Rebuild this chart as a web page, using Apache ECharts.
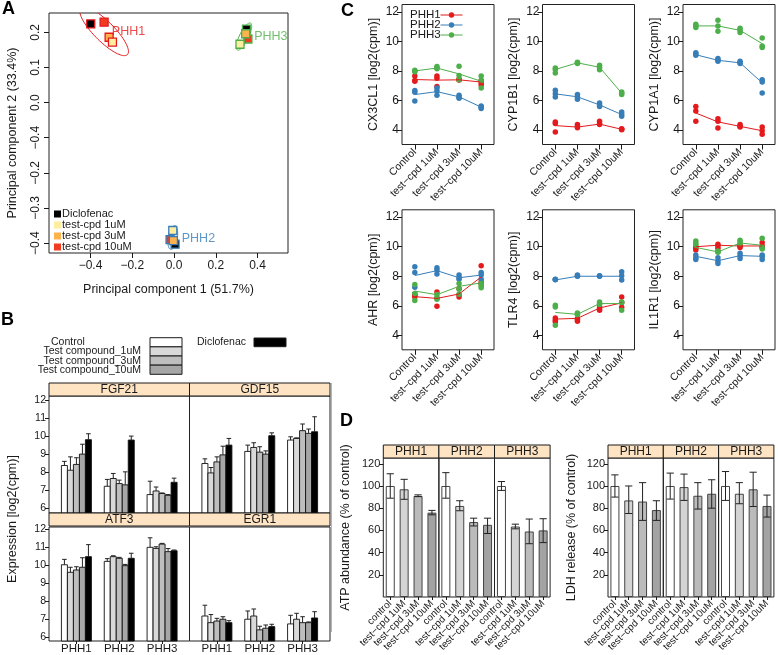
<!DOCTYPE html>
<html><head><meta charset="utf-8">
<script src="https://cdn.jsdelivr.net/npm/echarts@6/dist/echarts.min.js"></script>
<style>html,body{margin:0;padding:0;background:#fff}#c{width:778px;height:655px}</style>
</head><body><div id="c"></div><script>
// ================= DATA =================
// ---- Panel A (PCA) ----
const pcaDonors = ['PHH1', 'PHH2', 'PHH3'];
const pcaTreatments = ['Diclofenac', 'test-cpd 1uM', 'test-cpd 3uM', 'test-cpd 10uM'];
const pc1PHH1 = [-0.399, -0.295, -0.311, -0.335];
const pc2PHH1 = [0.224, 0.172, 0.186, 0.229];
const pc1PHH2 = [0.005, -0.006, -0.003, -0.019];
const pc2PHH2 = [-0.403, -0.364, -0.393, -0.390];
const pc1PHH3 = [0.347, 0.316, 0.343, 0.354];
const pc2PHH3 = [0.209, 0.166, 0.196, 0.181];
const pcaXTicks = [-0.4, -0.2, 0, 0.2, 0.4];
const pcaXTickLabels = ['−0.4', '−0.2', '0.0', '0.2', '0.4'];
const pcaYTicks = [-0.4, -0.3, -0.2, -0.1, 0, 0.1, 0.2];
const pcaYTickLabels = ['−0.4', '−0.3', '−0.2', '−0.4', '0.0', '0.1', '0.2'];
const pcaLabelPos = [[-0.298, 0.202], [0.037, -0.386], [0.384, 0.187]];
const pcaEllipseCenters = [[-0.335, 0.203], [-0.006, -0.384], [0.335, 0.188]];

// ---- Panel B (bar chart) ----
const bGenes = ['FGF21', 'GDF15', 'ATF3', 'EGR1'];
const bDonors = ['PHH1', 'PHH2', 'PHH3'];
const bTreatments = ['Control', 'Test compound_1uM', 'Test compound_3uM', 'Test compound_10uM', 'Diclofenac'];
const bYTicks = [6, 7, 8, 9, 10, 11, 12];
const fgf21Mean = [[8.37, 8.11, 8.43, 9.00, 9.80], [7.22, 7.65, 7.37, 7.30, 9.78], [6.76, 6.96, 6.82, 6.72, 7.44]];
const fgf21Upper = [[8.60, 8.85, 8.80, 9.55, 10.13], [7.60, 7.93, 7.56, 8.02, 10.00], [7.50, 7.18, 6.85, 6.76, 7.67]];
const gdf15Mean = [[8.48, 7.96, 8.57, 8.96, 9.50], [9.15, 9.37, 9.11, 9.00, 10.02], [9.78, 9.87, 10.30, 10.15, 10.24]];
const gdf15Upper = [[8.74, 8.26, 8.85, 9.44, 9.87], [9.50, 9.63, 9.41, 9.18, 10.18], [9.96, 9.90, 10.67, 10.39, 11.07]];
const atf3Mean = [[10.03, 9.61, 9.74, 9.89, 10.48], [10.22, 10.48, 10.39, 9.98, 10.39], [11.00, 10.94, 11.18, 10.76, 10.81]];
const atf3Upper = [[10.33, 9.89, 9.92, 10.42, 11.15], [10.37, 10.53, 10.44, 10.05, 10.67], [11.53, 11.03, 11.22, 10.93, 10.85]];
const egr1Mean = [[7.18, 6.81, 6.90, 7.00, 6.81], [7.00, 7.18, 6.41, 6.50, 6.59], [6.74, 7.00, 6.81, 6.81, 7.07]];
const egr1Upper = [[7.78, 7.26, 7.05, 7.14, 6.92], [7.46, 7.57, 6.61, 6.68, 6.72], [7.22, 7.33, 7.14, 6.85, 7.42]];

// ---- Panel C (gene profiles) ----
const cGenes = ['CX3CL1', 'CYP1B1', 'CYP1A1', 'AHR', 'TLR4', 'IL1R1'];
const cConditions = ['Control', 'test−cpd 1uM', 'test−cpd 3uM', 'test−cpd 10uM'];
const cDonors = ['PHH1', 'PHH2', 'PHH3'];
const cYTicks = [4, 6, 8, 10, 12];
// points: [donor][condition][replicate]
const cx3cl1Pts = [
  [[7.65, 7.35, 7.30], [7.65, 7.50, 6.95], [7.45, 7.40, 7.38], [7.35, 7.20, 7.05]],
  [[6.68, 6.55, 5.97], [6.85, 6.65, 6.35], [6.35, 6.22, 6.15], [5.62, 5.55, 5.45]],
  [[8.05, 8.00, 7.95], [8.30, 8.20, 8.15], [8.32, 7.70, 7.40], [7.65, 7.35, 6.85]]];
const cx3cl1Line = [[7.42, 7.38, 7.40, 7.25], [6.40, 6.60, 6.25, 5.55], [8.00, 8.20, 7.80, 7.30]];
const cyp1b1Pts = [
  [[4.55, 4.45, 3.86], [4.38, 4.25, 4.16], [4.60, 4.45, 4.38], [4.09, 4.05, 4.02]],
  [[6.69, 6.46, 6.24], [6.40, 6.24, 6.08], [5.83, 5.70, 5.60], [5.22, 5.06, 4.93]],
  [[8.20, 8.10, 7.86], [8.59, 8.55, 8.50], [8.38, 8.25, 8.09], [6.58, 6.50, 6.40]]];
const cyp1b1Line = [[4.30, 4.20, 4.40, 4.05], [6.45, 6.25, 5.70, 5.05], [8.10, 8.55, 8.25, 6.50]];
const cyp1a1Pts = [
  [[5.60, 5.29, 4.59], [4.77, 4.60, 4.14], [4.38, 4.25, 4.20], [4.20, 3.95, 3.71]],
  [[9.24, 9.15, 9.06], [8.84, 8.75, 8.66], [8.66, 8.55, 8.50], [7.41, 7.25, 6.51]],
  [[11.16, 11.05, 10.94], [11.44, 11.05, 10.69], [10.89, 10.75, 10.60], [10.24, 9.69, 9.58]]];
const cyp1a1Line = [[5.15, 4.55, 4.25, 3.95], [9.10, 8.72, 8.55, 7.20], [11.05, 11.05, 10.75, 9.85]];
const ahrPts = [
  [[6.80, 6.72, 6.60], [6.94, 6.49, 5.97], [7.17, 6.75, 6.60], [8.71, 7.60, 7.50]],
  [[8.64, 8.26, 7.25], [8.58, 8.42, 8.15], [8.08, 7.90, 7.80], [8.26, 8.08, 7.80]],
  [[7.44, 6.83, 6.35], [6.76, 6.56, 6.44], [7.51, 7.12, 6.78], [7.51, 7.35, 7.22]]];
const ahrLine = [[6.62, 6.50, 6.80, 7.95], [8.05, 8.38, 7.90, 8.08], [7.00, 6.75, 7.32, 7.55]];
const tlr4Pts = [
  [[5.17, 5.02, 4.90], [5.13, 5.05, 4.95], [5.92, 5.80, 5.70], [6.60, 6.22, 5.90]],
  [[7.80, 7.78, 7.76], [8.08, 8.01, 8.00], [8.03, 8.02, 8.00], [8.30, 8.03, 7.74]],
  [[6.04, 5.92, 4.68], [5.51, 5.45, 5.40], [6.26, 6.15, 6.08], [6.26, 6.22, 5.70]]];
const tlr4Line = [[5.10, 5.15, 5.85, 6.20], [7.75, 8.00, 8.00, 8.00], [5.55, 5.42, 6.15, 6.15]];
const il1r1Pts = [
  [[10.00, 9.89, 9.78], [10.16, 10.05, 9.89], [10.12, 10.05, 9.94], [10.28, 10.05, 9.96]],
  [[9.44, 9.26, 9.14], [9.26, 9.03, 8.87], [9.55, 9.39, 9.21], [9.44, 9.33, 9.14]],
  [[10.39, 10.23, 10.12], [9.71, 9.66, 9.62], [10.43, 10.34, 10.20], [10.57, 9.94, 9.85]]];
const il1r1Line = [[10.00, 10.10, 10.05, 10.05], [9.35, 9.05, 9.40, 9.35], [9.95, 9.65, 10.25, 10.10]];

// ---- Panel D (viability) ----
const dDonors = ['PHH1', 'PHH2', 'PHH3'];
const dTreatLabels = ['control', 'test−cpd 1uM', 'test−cpd 3uM', 'test−cpd 10uM'];
const dYTicks = [20, 40, 60, 80, 100, 120];
const atpMean = [[100, 97, 91, 76], [100, 82, 67.5, 65], [100, 63.5, 59, 60]];
const atpLow = [[89, 88, 90.4, 74], [89, 77.7, 64, 57.2], [96, 61.4, 48, 49]];
const atpHigh = [[111, 106, 92, 78], [112, 86.7, 71, 71], [104, 65.6, 70.2, 70.5]];
const ldhMean = [[100, 87, 86, 78.3], [100, 99, 91.2, 93], [100, 93, 97, 82]];
const ldhLow = [[90, 75.2, 69, 69], [88.2, 87, 79.2, 80], [87, 84, 81.5, 72]];
const ldhHigh = [[110, 100, 103, 86.7], [111.6, 110.7, 103, 105.6], [113, 103, 112.4, 91.8]];

// ================= STYLE =================
const FONT = '"Liberation Sans", Arial, Helvetica, sans-serif';
const INK = '#1a1a1a';
const DONOR_COLORS = ['#E41A1C', '#377EB8', '#4DAF4A'];
const TREAT_COLORS = ['#000000', '#FFEDA0', '#FEB24C', '#F03B20'];
const PCA_ELLIPSE_PX = [[33, 10, 45], [12, 4.5, -80], [15, 4.5, -64]];
const B_COLORS = ['#FFFFFF', '#D9D9D9', '#BEBEBE', '#A6A6A6', '#000000'];
const B_BAR_W = 6;
const D_COLORS = ['#FFFFFF', '#D4D4D4', '#BBBBBB', '#A3A3A3'];
const STRIP_FILL = '#FFE4C4';

const grids = [], xAxes = [], yAxes = [], series = [], graphics = [];
function addGrid(box, xa, ya) {
  const gi = grids.length;
  grids.push({left: box[0], top: box[1], width: box[2], height: box[3], show: true,
    borderColor: '#222', borderWidth: 1, backgroundColor: 'transparent', containLabel: false});
  xAxes.push(Object.assign({gridIndex: gi}, xa));
  yAxes.push(Object.assign({gridIndex: gi}, ya));
  return gi;
}
const lab = (ticks, labels) => v => { const k = ticks.findIndex(t => Math.abs(t - v) < 1e-6); return k < 0 ? '' : labels[k]; };
const hiddenVal = (min, max) => ({type: 'value', min, max, axisLine: {show: false, onZero: false}, axisTick: {show: false}, axisLabel: {show: false}, splitLine: {show: false}});
const tickStyle = {lineStyle: {color: INK, width: 1}};
function valAxis(min, max, ticks, labels, extra) {
  return Object.assign({type: 'value', min, max, axisLine: {show: false, onZero: false}, splitLine: {show: false},
    axisTick: Object.assign({show: true, customValues: ticks, length: 4}, tickStyle),
    axisLabel: {customValues: ticks, formatter: labels ? lab(ticks, labels) : (v => String(v)), fontSize: 11, margin: 3, color: INK, fontFamily: FONT}}, extra || {});
}
function text(x, y, str, opt) {
  opt = opt || {};
  graphics.push({type: 'text', x, y, rotation: opt.rotation || 0, z: 100,
    style: {text: str, fill: opt.color || INK, font: (opt.weight || 'normal') + ' ' + (opt.size || 11) + 'px ' + FONT,
      align: opt.align || 'left', verticalAlign: opt.valign || 'middle'}});
}
function rect(x, y, w, h, fill, stroke) {
  graphics.push({type: 'rect', shape: {x, y, width: w, height: h}, z: 90,
    style: {fill, stroke: stroke || INK, lineWidth: 1}});
}
function strip(x, y, w, h, label) { rect(x, y, w, h, STRIP_FILL); text(x + w / 2, y + h / 2 + 0.5, label, {align: 'center', size: 12}); }

// ================= PANEL A =================
const pcaPC1 = [pc1PHH1, pc1PHH2, pc1PHH3];
const pcaPC2 = [pc2PHH1, pc2PHH2, pc2PHH3];
const gA = addGrid([49, 13, 239, 240],
  valAxis(-0.599, 0.546, pcaXTicks, pcaXTickLabels, {name: 'Principal component 1 (51.7%)', nameLocation: 'middle', nameGap: 30,
    nameTextStyle: {fontSize: 12.5, color: INK, fontFamily: FONT}}),
  valAxis(-0.428, 0.255, pcaYTicks, pcaYTickLabels, {name: 'Principal component 2 (33.4%)', nameLocation: 'middle', nameGap: 30,
    nameTextStyle: {fontSize: 12.5, color: INK, fontFamily: FONT}}));
xAxes[gA].axisTick.length = 5; xAxes[gA].axisLabel.fontSize = 12; xAxes[gA].axisLabel.margin = 7;
yAxes[gA].axisTick.length = 5; yAxes[gA].axisLabel.fontSize = 12; yAxes[gA].axisLabel.margin = 7; yAxes[gA].axisLabel.rotate = 90;

series.push({type: 'custom', name: 'ellipse', xAxisIndex: gA, yAxisIndex: gA, clip: true, silent: true,
  data: pcaEllipseCenters,
  renderItem: (params, api) => {
    const c = api.coord([api.value(0), api.value(1)]);
    const [rx, ry, deg] = PCA_ELLIPSE_PX[params.dataIndex];
    const th = deg * Math.PI / 180, pts = [];
    for (let k = 0; k < 90; k++) {
      const a = k / 90 * 2 * Math.PI, ex = rx * Math.cos(a), ey = ry * Math.sin(a);
      pts.push([c[0] + ex * Math.cos(th) - ey * Math.sin(th), c[1] + ex * Math.sin(th) + ey * Math.cos(th)]);
    }
    return {type: 'polygon', shape: {points: pts}, style: {fill: 'none', stroke: DONOR_COLORS[params.dataIndex], lineWidth: 1}};
  }});
[0, 3, 2, 1].forEach(t => {
  series.push({type: 'scatter', name: pcaTreatments[t], xAxisIndex: gA, yAxisIndex: gA, symbol: 'rect', symbolSize: 8,
    itemStyle: {color: TREAT_COLORS[t], borderWidth: 0, opacity: 1},
    data: pcaDonors.map((d, di) => ({value: [pcaPC1[di][t], pcaPC2[di][t]],
      itemStyle: {borderColor: DONOR_COLORS[di], borderWidth: 1.3}}))});
});
series.push({type: 'scatter', name: 'donorLabels', xAxisIndex: gA, yAxisIndex: gA, symbolSize: 0, silent: true,
  data: pcaDonors.map((d, di) => ({value: pcaLabelPos[di], name: d,
    label: {show: true, position: 'right', distance: 0, formatter: '{b}', color: DONOR_COLORS[di], fontSize: 12.5, fontFamily: FONT}}))});

// ================= PANEL B =================
const bMeans = [fgf21Mean, gdf15Mean, atf3Mean, egr1Mean];
const bUppers = [fgf21Upper, gdf15Upper, atf3Upper, egr1Upper];
const bBoxes = [[49, 396, 140.5, 117], [189.5, 396, 140.5, 117], [49, 527, 140.5, 114], [189.5, 527, 140.5, 114]];
const bYRange = [[5.74, 12.22], [5.74, 12.22], [5.79, 12.13], [5.79, 12.13]];
bGenes.forEach((g, k) => {
  const [ymin, ymax] = bYRange[k];
  const left = (k % 2 === 0), bottom = (k >= 2);
  const xa = bottom ? valAxis(0.36, 3.64, [1, 2, 3], bDonors) : hiddenVal(0.36, 3.64);
  if (bottom) { xa.axisTick.length = 3; xa.axisLabel.fontSize = 11.5; xa.axisLabel.margin = 2; }
  const ya = left ? valAxis(ymin, ymax, bYTicks) : hiddenVal(ymin, ymax);
  if (left) { ya.axisLabel.fontSize = 10.5; }
  const gi = addGrid(bBoxes[k], xa, ya);
  const data = [];
  bDonors.forEach((d, di) => bTreatments.forEach((t, ti) => data.push([di + 1, ti, bMeans[k][di][ti], bUppers[k][di][ti]])));
  series.push({type: 'custom', name: g, xAxisIndex: gi, yAxisIndex: gi, data, silent: true,
    renderItem: (params, api) => {
      const dn = api.value(0), t = api.value(1), m = api.value(2), up = api.value(3);
      const p = api.coord([dn, m]), b = api.coord([dn, ymin]), u = api.coord([dn, up]);
      const cx = p[0] + (t - 2) * B_BAR_W;
      return {type: 'group', children: [
        {type: 'rect', shape: {x: cx - B_BAR_W / 2, y: p[1], width: B_BAR_W, height: b[1] - p[1]}, style: {fill: B_COLORS[t], stroke: '#111', lineWidth: 0.9}},
        {type: 'line', shape: {x1: cx, y1: p[1], x2: cx, y2: u[1]}, style: {stroke: '#222', lineWidth: 1}},
        {type: 'line', shape: {x1: cx - 2.3, y1: u[1], x2: cx + 2.3, y2: u[1]}, style: {stroke: '#222', lineWidth: 1}}]};
    }});
  strip(bBoxes[k][0], k < 2 ? 383 : 513, bBoxes[k][2], 13, g);
});
text(13, 519, 'Expression [log2(cpm)]', {align: 'center', size: 12.5, rotation: Math.PI / 2});
// B key
text(51, 342.4, bTreatments[0], {size: 10.5});
text(141, 351.6, bTreatments[1], {size: 10.5, align: 'right'});
text(141, 360.8, bTreatments[2], {size: 10.5, align: 'right'});
text(141, 370, bTreatments[3], {size: 10.5, align: 'right'});
[0, 1, 2, 3].forEach(i => rect(150, 337.7 + i * 9.15, 32, 9.15, B_COLORS[i]));
text(246, 342.6, bTreatments[4], {size: 10.5, align: 'right'});
rect(254, 338, 32, 8.7, B_COLORS[4]);

// ================= PANEL C =================
const cPts = [cx3cl1Pts, cyp1b1Pts, cyp1a1Pts, ahrPts, tlr4Pts, il1r1Pts];
const cLines = [cx3cl1Line, cyp1b1Line, cyp1a1Line, ahrLine, tlr4Line, il1r1Line];
const cLefts = [402, 542.5, 683];
const cTops = [4.5, 209.8];
cGenes.forEach((g, k) => {
  const xa = valAxis(-0.58, 3.58, [0, 1, 2, 3], cConditions);
  xa.axisTick.length = 5; xa.axisLabel.rotate = 45; xa.axisLabel.fontSize = 10.5; xa.axisLabel.margin = 6;
  const ya = valAxis(3.02, 12.5, cYTicks, null, {name: g + ' [log2(cpm)]', nameLocation: 'middle', nameGap: 22,
    nameTextStyle: {fontSize: 12.5, color: INK, fontFamily: FONT}});
  ya.axisTick.length = 5; ya.axisLabel.fontSize = 12; ya.axisLabel.margin = 3;
  const gi = addGrid([cLefts[k % 3], cTops[Math.floor(k / 3)], 92, 140], xa, ya);
  cDonors.forEach((d, di) => {
    series.push({type: 'line', name: d, xAxisIndex: gi, yAxisIndex: gi, symbol: 'none', silent: true,
      lineStyle: {color: DONOR_COLORS[di], width: 1}, data: cLines[k][di].map((v, i) => [i, v])});
    const pts = [];
    cPts[k][di].forEach((reps, i) => reps.forEach(v => pts.push([i, v])));
    series.push({type: 'scatter', name: d, xAxisIndex: gi, yAxisIndex: gi, symbolSize: 5.5, silent: true,
      itemStyle: {color: DONOR_COLORS[di], opacity: 1}, data: pts});
  });
});
// C key
cDonors.forEach((d, di) => {
  const y = 15 + di * 10;
  text(410, y, d, {size: 11.5});
  graphics.push({type: 'line', shape: {x1: 440.5, y1: y, x2: 462.5, y2: y}, style: {stroke: DONOR_COLORS[di], lineWidth: 1}, z: 100});
  graphics.push({type: 'circle', shape: {cx: 451.5, cy: y, r: 2.7}, style: {fill: DONOR_COLORS[di]}, z: 101});
});

// ================= PANEL D =================
function dPanel(lefts, w, means, lows, highs, title, nameGap) {
  dDonors.forEach((d, di) => {
    const xa = {type: 'category', data: dTreatLabels, boundaryGap: true, axisLine: {show: false, onZero: false}, splitLine: {show: false},
      axisTick: Object.assign({show: true, alignWithLabel: true, length: 3}, tickStyle),
      axisLabel: {interval: 0, rotate: 45, fontSize: 10, margin: 5, color: INK, fontFamily: FONT}};
    const ya = di === 0 ? valAxis(0, 125.2, dYTicks, null, {name: title, nameLocation: 'middle', nameGap,
      nameTextStyle: {fontSize: 12.5, color: INK, fontFamily: FONT}}) : hiddenVal(0, 125.2);
    const gi = addGrid([lefts[di], 458, w, 139], xa, ya);
    series.push({type: 'bar', name: title + d, xAxisIndex: gi, yAxisIndex: gi, barWidth: 9, silent: true,
      itemStyle: {borderColor: '#444', borderWidth: 1},
      data: means[di].map((v, i) => ({value: v, itemStyle: {color: D_COLORS[i]}}))});
    series.push({type: 'custom', name: title + d + 'err', xAxisIndex: gi, yAxisIndex: gi, silent: true, z: 5,
      data: lows[di].map((lo, i) => [i, lo, highs[di][i]]),
      renderItem: (params, api) => {
        const lo = api.coord([api.value(0), api.value(1)]), hi = api.coord([api.value(0), api.value(2)]);
        const x = lo[0], st = {stroke: '#222', lineWidth: 1}, cap = 3.6;
        return {type: 'group', children: [
          {type: 'line', shape: {x1: x, y1: lo[1], x2: x, y2: hi[1]}, style: st},
          {type: 'line', shape: {x1: x - cap, y1: lo[1], x2: x + cap, y2: lo[1]}, style: st},
          {type: 'line', shape: {x1: x - cap, y1: hi[1], x2: x + cap, y2: hi[1]}, style: st}]};
      }});
    strip(lefts[di], 445, w, 13, d);
  });
}
dPanel([383.3, 438.9, 494.5], 55.6, atpMean, atpLow, atpHigh, 'ATP abundance (% of control)', 31);
dPanel([608, 663.3, 718.6], 55.3, ldhMean, ldhLow, ldhHigh, 'LDH release (% of control)', 30);

// ================= DECOR =================
text(2, 9.5, 'A', {size: 18, weight: 'bold', color: '#000'});
text(1, 320, 'B', {size: 18, weight: 'bold', color: '#000'});
text(341, 11.5, 'C', {size: 18, weight: 'bold', color: '#000'});
text(340, 421.5, 'D', {size: 18, weight: 'bold', color: '#000'});
graphics.push({type: 'line', shape: {x1: 331.5, y1: 383, x2: 331.5, y2: 632}, style: {stroke: '#b5b5b5', lineWidth: 1}, z: 1});

const chart = echarts.init(document.getElementById('c'), null, {renderer: 'canvas'});
chart.setOption({
  animation: false,
  backgroundColor: '#ffffff',
  textStyle: {fontFamily: FONT},
  grid: grids, xAxis: xAxes, yAxis: yAxes, series,
  legend: [{data: pcaTreatments, left: 54, top: 208.5, orient: 'vertical', itemWidth: 7, itemHeight: 7, itemGap: 0,
    icon: 'rect', selectedMode: false, padding: 0,
    textStyle: {fontSize: 11, color: INK, fontFamily: FONT, lineHeight: 9.6, padding: [0, 0, 0, -4]}}],
  graphic: graphics
});
</script></body></html>
